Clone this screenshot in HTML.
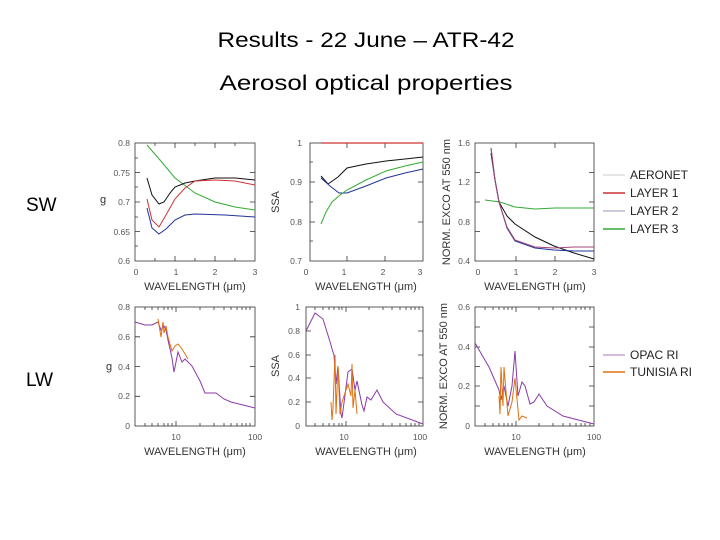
<!DOCTYPE html>
<html><head><meta charset="utf-8"><style>
html,body{margin:0;padding:0;background:#fff}
svg{display:block}
.t{font-family:"Liberation Sans",sans-serif;fill:#555;font-size:8.5px}
.a{font-family:"Liberation Sans",sans-serif;fill:#333;font-size:11px}
.l{font-family:"Liberation Sans",sans-serif;fill:#222;font-size:12px}
.f{fill:none;stroke:#333;stroke-width:0.8}
.p{fill:none;stroke-width:1}
</style></head><body>
<svg width="720" height="540" viewBox="0 0 720 540" xmlns="http://www.w3.org/2000/svg">
<text x="366" y="47" text-anchor="middle" font-family="Liberation Sans,sans-serif" font-size="21" fill="#000" textLength="297" lengthAdjust="spacingAndGlyphs">Results - 22 June – ATR-42</text>
<text x="366" y="90" text-anchor="middle" font-family="Liberation Sans,sans-serif" font-size="21" fill="#000" textLength="293" lengthAdjust="spacingAndGlyphs">Aerosol optical properties</text>
<text x="26" y="211" font-family="Liberation Sans,sans-serif" font-size="19" fill="#000">SW</text>
<text x="26" y="386" font-family="Liberation Sans,sans-serif" font-size="19" fill="#000">LW</text>

<!-- TOP LEFT -->
<rect class="f" x="135" y="143" width="120" height="118"/>
<g stroke="#333" stroke-width="0.8">
<path d="M135 172.5h5M135 202h5M135 231.5h5M255 172.5h-5M255 202h-5M255 231.5h-5M135 158h3M135 187h3M135 217h3M135 246h3M175 261v-5M215 261v-5M175 143v5M215 143v5M155 261v-3M195 261v-3M235 261v-3M155 143v3M195 143v3M235 143v3"/>
</g>
<g class="t" text-anchor="end"><text x="130" y="146">0.8</text><text x="130" y="176">0.75</text><text x="130" y="205">0.7</text><text x="130" y="235">0.65</text><text x="130" y="264">0.6</text></g>
<g class="t" text-anchor="middle"><text x="136" y="275">0</text><text x="176" y="275">1</text><text x="215" y="275">2</text><text x="255" y="275">3</text></g>
<text class="a" x="195" y="290" text-anchor="middle">WAVELENGTH (μm)</text>
<text class="a" x="103" y="203" text-anchor="middle">g</text>
<polyline class="p" stroke="#3a3" points="147,145 160,160 175,178 195,193 215,202 235,207 255,210"/>
<polyline class="p" stroke="#111" points="147,178 152,195 159,204 164,202 170,193 175,187 185,183 195,181 215,178 235,178 255,180"/>
<polyline class="p" stroke="#c33" points="147,199 152,220 159,227 166,215 175,199 185,188 195,181 215,180 235,181 255,185"/>
<polyline class="p" stroke="#239" points="147,208 152,228 159,234 166,229 175,220 185,215 195,214 225,215 255,217"/>

<!-- TOP MIDDLE -->
<rect class="f" x="310" y="143" width="113" height="118"/>
<g stroke="#333" stroke-width="0.8">
<path d="M310 182h5M310 222h5M423 182h-5M423 222h-5M347 261v-5M385 261v-5M347 143v5M385 143v5M310 162h3M310 202h3M310 241h3"/>
</g>
<g class="t" text-anchor="end"><text x="302" y="146">1</text><text x="302" y="185">0.9</text><text x="302" y="225">0.8</text><text x="302" y="264">0.7</text></g>
<g class="t" text-anchor="middle"><text x="306" y="275">0</text><text x="344" y="275">1</text><text x="383" y="275">2</text><text x="420" y="275">3</text></g>
<text class="a" x="366" y="290" text-anchor="middle">WAVELENGTH (μm)</text>
<text class="a" transform="translate(279,202) rotate(-90)" text-anchor="middle">SSA</text>
<line x1="321" y1="143" x2="423" y2="143" stroke="#c33" stroke-width="1.2"/>
<polyline class="p" stroke="#111" points="321,176 328,184 338,177 347,168 366,164 386,161 405,159 423,157"/>
<polyline class="p" stroke="#239" points="321,178 330,186 339,193 347,193 366,186 386,178 405,173 423,169"/>
<polyline class="p" stroke="#3a3" points="321,224 326,212 332,202 340,195 347,190 366,180 386,171 405,166 423,162"/>

<!-- TOP RIGHT -->
<rect class="f" x="475" y="143" width="119" height="118"/>
<g stroke="#333" stroke-width="0.8">
<path d="M475 172.5h5M475 202h5M475 231.5h5M594 172.5h-5M594 202h-5M594 231.5h-5M516 261v-5M555 261v-5M516 143v5M555 143v5"/>
</g>
<g class="t" text-anchor="end"><text x="470" y="146">1.6</text><text x="470" y="185">1.2</text><text x="470" y="225">0.8</text><text x="470" y="264">0.4</text></g>
<g class="t" text-anchor="middle"><text x="478" y="275">0</text><text x="516" y="275">1</text><text x="555" y="275">2</text><text x="594" y="275">3</text></g>
<text class="a" x="535" y="290" text-anchor="middle">WAVELENGTH (μm)</text>
<text class="a" transform="translate(450,202) rotate(-90)" text-anchor="middle">NORM. EXCO AT 550 nm</text>
<polyline class="p" stroke="#3a3" points="485,200 500,202 515,207 535,209 555,208 594,208"/>
<polyline class="p" stroke="#111" points="491,153 495,180 499,202 507,216 515,224 535,237 554,246 574,253 594,259"/>
<polyline class="p" stroke="#239" points="491,148 495,180 499,202 507,228 515,241 535,248 554,250 574,251 594,251"/>
<polyline class="p" stroke="#a3457a" points="491,148 495,180 499,202 507,227 515,240 535,247 554,248 574,247 594,247"/>

<!-- legend top -->
<g stroke-width="1.4"><line x1="603" y1="175" x2="625" y2="175" stroke="#ddd"/><line x1="603" y1="193" x2="625" y2="193" stroke="#c33"/><line x1="603" y1="211" x2="625" y2="211" stroke="#bbc"/><line x1="603" y1="229" x2="625" y2="229" stroke="#3a3"/></g>
<g class="l"><text x="630" y="179">AERONET</text><text x="630" y="197">LAYER 1</text><text x="630" y="215">LAYER 2</text><text x="630" y="233">LAYER 3</text></g>

<!-- BOTTOM LEFT -->
<rect class="f" x="135" y="307" width="120" height="119"/>
<g stroke="#333" stroke-width="0.8">
<path d="M135 336.8h5M135 366.5h5M135 396.3h5M255 336.8h-5M255 366.5h-5M255 396.3h-5M176 426v-5M176 307v5M145 426v-3M152 426v-3M158 426v-3M164 426v-3M168 426v-3M172 426v-3M200 426v-3M214 426v-3M224 426v-3M231 426v-3M237 426v-3M242 426v-3M246 426v-3M250 426v-3M145 307v3M152 307v3M158 307v3M164 307v3M168 307v3M172 307v3M200 307v3M214 307v3M224 307v3M231 307v3M237 307v3M242 307v3M246 307v3M250 307v3"/>
</g>
<g class="t" text-anchor="end"><text x="130" y="310">0.8</text><text x="130" y="340">0.6</text><text x="130" y="370">0.4</text><text x="130" y="399">0.2</text><text x="130" y="429">0</text></g>
<g class="t" text-anchor="middle"><text x="176" y="440">10</text><text x="255" y="440">100</text></g>
<text class="a" x="195" y="455" text-anchor="middle">WAVELENGTH (μm)</text>
<text class="a" x="109" y="370" text-anchor="middle">g</text>
<polyline class="p" stroke="#8a3aa8" points="135,322 145,325 152,325 158,322 161,330 164,326 166,330 168,340 172,358 174,372 178,352 182,362 185,359 192,366 200,381 205,393 216,393 224,399 231,402 255,408"/>
<polyline class="p" stroke="#e07010" stroke-width="1.3" points="158,319 161,337 163,322 164,333 166,326 168,337 172,351 175,346 178,344 182,349 188,359"/>

<!-- BOTTOM MIDDLE -->
<rect class="f" x="306" y="307" width="117" height="119"/>
<g stroke="#333" stroke-width="0.8">
<path d="M306 331h5M306 355h5M306 378h5M306 402h5M423 331h-5M423 355h-5M423 378h-5M423 402h-5M346 426v-5M346 307v5M315 426v-3M323 426v-3M329 426v-3M334 426v-3M339 426v-3M342 426v-3M369 426v-3M383 426v-3M392 426v-3M400 426v-3M406 426v-3M411 426v-3M415 426v-3M419 426v-3M315 307v3M323 307v3M329 307v3M334 307v3M339 307v3M342 307v3M369 307v3M383 307v3M392 307v3M400 307v3M406 307v3M411 307v3M415 307v3M419 307v3"/>
</g>
<g class="t" text-anchor="end"><text x="300" y="310">1</text><text x="300" y="334">0.8</text><text x="300" y="358">0.6</text><text x="300" y="381">0.4</text><text x="300" y="405">0.2</text><text x="300" y="429">0</text></g>
<g class="t" text-anchor="middle"><text x="344" y="440">10</text><text x="420" y="440">100</text></g>
<text class="a" x="366" y="455" text-anchor="middle">WAVELENGTH (μm)</text>
<text class="a" transform="translate(279,366) rotate(-90)" text-anchor="middle">SSA</text>
<polyline class="p" stroke="#8a3aa8" points="306,331 315,313 323,319 331,345 332,349 334,355 336,384 338,366 341,414 342,418 348,372 352,369 355,390 357,381 362,405 364,411 367,397 371,400 377,390 383,402 396,414 423,424"/>
<polyline class="p" stroke="#e07010" stroke-width="1.3" points="331,402 332,420 333,408 335,355 336,414 338,366 340,414 342,402 348,384 351,396 352,364 353,408 355,390 357,414"/>

<!-- BOTTOM RIGHT -->
<rect class="f" x="475" y="307" width="119" height="119"/>
<g stroke="#333" stroke-width="0.8">
<path d="M475 327h5M475 347h5M475 366.5h5M475 386h5M475 406h5M594 327h-5M594 347h-5M594 366.5h-5M594 386h-5M594 406h-5M516 426v-5M516 307v5M485 426v-3M493 426v-3M499 426v-3M504 426v-3M508 426v-3M512 426v-3M539 426v-3M553 426v-3M563 426v-3M570 426v-3M576 426v-3M581 426v-3M585 426v-3M590 426v-3M485 307v3M493 307v3M499 307v3M504 307v3M508 307v3M512 307v3M539 307v3M553 307v3M563 307v3M570 307v3M576 307v3M581 307v3M585 307v3M590 307v3"/>
</g>
<g class="t" text-anchor="end"><text x="470" y="310">0.6</text><text x="470" y="350">0.4</text><text x="470" y="389">0.2</text><text x="470" y="429">0</text></g>
<g class="t" text-anchor="middle"><text x="516" y="440">10</text><text x="594" y="440">100</text></g>
<text class="a" x="535" y="455" text-anchor="middle">WAVELENGTH (μm)</text>
<text class="a" transform="translate(447,366) rotate(-90)" text-anchor="middle">NORM. EXCO AT 550 nm</text>
<polyline class="p" stroke="#8a3aa8" points="475,343 489,367 499,390 501,400 504,386 508,406 512,386 515,351 518,396 522,382 525,386 530,404 534,402 539,394 547,406 563,416 594,424"/>
<polyline class="p" stroke="#e07010" stroke-width="1.3" points="499,396 500,414 501,367 503,406 504,367 508,416 512,402 515,378 519,420 522,416 527,418"/>

<!-- legend bottom -->
<g stroke-width="1.4"><line x1="603" y1="355" x2="625" y2="355" stroke="#c9a3d6"/><line x1="603" y1="372" x2="625" y2="372" stroke="#e07010"/></g>
<g class="l"><text x="630" y="359">OPAC RI</text><text x="630" y="376">TUNISIA RI</text></g>
</svg>
</body></html>
